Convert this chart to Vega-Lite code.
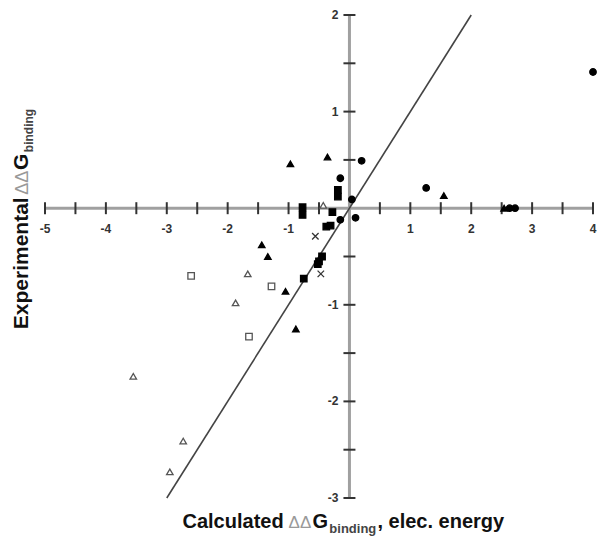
{
  "$schema": "https://vega.github.io/schema/vega-lite/v6.json",
  "width": 548,
  "height": 483,
  "autosize": {"type": "none"},
  "padding": {"left": 45, "top": 15, "right": 8, "bottom": 45},
  "background": "white",
  "config": {"view": {"stroke": null}, "font": "Liberation Sans"},
  "datasets": {
    "pts": [
      {"cx": 4.0, "ey": 1.41, "s": "circle"},
      {"cx": 0.2, "ey": 0.49, "s": "circle"},
      {"cx": -0.15, "ey": 0.31, "s": "circle"},
      {"cx": 1.26, "ey": 0.21, "s": "circle"},
      {"cx": 0.1, "ey": -0.1, "s": "circle"},
      {"cx": 2.63, "ey": 0.0, "s": "circle"},
      {"cx": 2.72, "ey": 0.0, "s": "circle"},
      {"cx": 0.04, "ey": 0.09, "s": "circle"},
      {"cx": -0.15, "ey": -0.12, "s": "circle"},
      {"cx": -0.97, "ey": 0.46, "s": "triF"},
      {"cx": -0.36, "ey": 0.53, "s": "triF"},
      {"cx": 1.55, "ey": 0.13, "s": "triF"},
      {"cx": -1.44, "ey": -0.38, "s": "triF"},
      {"cx": -1.34, "ey": -0.5, "s": "triF"},
      {"cx": -1.05, "ey": -0.86, "s": "triF"},
      {"cx": -0.88, "ey": -1.25, "s": "triF"},
      {"cx": 2.54, "ey": 0.0, "s": "triF"},
      {"cx": -0.77, "ey": 0.01, "s": "sqF"},
      {"cx": -0.77, "ey": -0.07, "s": "sqF"},
      {"cx": -0.28, "ey": -0.04, "s": "sqF"},
      {"cx": -0.19, "ey": 0.19, "s": "sqF"},
      {"cx": -0.19, "ey": 0.12, "s": "sqF"},
      {"cx": -0.38, "ey": -0.19, "s": "sqF"},
      {"cx": -0.31, "ey": -0.18, "s": "sqF"},
      {"cx": -0.45, "ey": -0.5, "s": "sqF"},
      {"cx": -0.5, "ey": -0.55, "s": "sqF"},
      {"cx": -0.52, "ey": -0.58, "s": "sqF"},
      {"cx": -0.75, "ey": -0.73, "s": "sqF"},
      {"cx": -0.56, "ey": -0.29, "s": "x"},
      {"cx": -0.47, "ey": -0.68, "s": "x"},
      {"cx": -1.67, "ey": -0.68, "s": "triO"},
      {"cx": -1.87, "ey": -0.98, "s": "triO"},
      {"cx": -3.55, "ey": -1.74, "s": "triO"},
      {"cx": -2.73, "ey": -2.41, "s": "triO"},
      {"cx": -2.95, "ey": -2.73, "s": "triO"},
      {"cx": -0.43, "ey": 0.03, "s": "triO"},
      {"cx": -2.6, "ey": -0.7, "s": "sqO"},
      {"cx": -1.28, "ey": -0.81, "s": "sqO"},
      {"cx": -1.65, "ey": -1.33, "s": "sqO"}
    ],
    "xticks": [
      {"v": -5, "t": "-5"}, {"v": -4.5, "t": ""}, {"v": -4, "t": "-4"}, {"v": -3.5, "t": ""},
      {"v": -3, "t": "-3"}, {"v": -2.5, "t": ""}, {"v": -2, "t": "-2"}, {"v": -1.5, "t": ""},
      {"v": -1, "t": "-1"}, {"v": -0.5, "t": ""}, {"v": 0.5, "t": ""}, {"v": 1, "t": "1"},
      {"v": 1.5, "t": ""}, {"v": 2, "t": "2"}, {"v": 2.5, "t": ""}, {"v": 3, "t": "3"},
      {"v": 3.5, "t": ""}, {"v": 4, "t": "4"}
    ],
    "yticks": [
      {"v": -3, "t": "-3"}, {"v": -2.5, "t": ""}, {"v": -2, "t": "-2"}, {"v": -1.5, "t": ""},
      {"v": -1, "t": "-1"}, {"v": -0.5, "t": ""}, {"v": 0.5, "t": ""}, {"v": 1, "t": "1"},
      {"v": 1.5, "t": ""}, {"v": 2, "t": "2"}
    ],
    "diag": [{"cx": -3, "ey": -3}, {"cx": 2, "ey": 2}],
    "xline": [{"a": -5, "b": 4}],
    "yline": [{"a": -3, "b": 2}]
  },
  "layer": [
    {
      "data": {"name": "xline"},
      "mark": {"type": "rule", "color": "#a0a0a0", "strokeWidth": 3},
      "encoding": {
        "x": {"field": "a", "type": "quantitative", "scale": {"domain": [-5, 4], "nice": false, "zero": false}, "axis": null},
        "x2": {"field": "b"},
        "y": {"datum": 0, "type": "quantitative", "scale": {"domain": [-3, 2], "nice": false, "zero": false}, "axis": null}
      }
    },
    {
      "data": {"name": "yline"},
      "mark": {"type": "rule", "color": "#a0a0a0", "strokeWidth": 3},
      "encoding": {
        "y": {"field": "a", "type": "quantitative"},
        "y2": {"field": "b"},
        "x": {"datum": 0, "type": "quantitative"}
      }
    },
    {
      "data": {"name": "xticks"},
      "mark": {"type": "tick", "orient": "vertical", "color": "#333", "size": 12, "thickness": 2, "opacity": 1},
      "encoding": {
        "x": {"field": "v", "type": "quantitative"},
        "y": {"datum": 0, "type": "quantitative"}
      }
    },
    {
      "data": {"name": "yticks"},
      "mark": {"type": "tick", "orient": "horizontal", "color": "#333", "size": 12, "thickness": 2, "opacity": 1},
      "encoding": {
        "y": {"field": "v", "type": "quantitative"},
        "x": {"datum": 0, "type": "quantitative"}
      }
    },
    {
      "data": {"name": "xticks"},
      "mark": {"type": "text", "fontSize": 12, "fontWeight": "bold", "color": "#333", "dy": 21, "baseline": "middle", "align": "center"},
      "encoding": {
        "x": {"field": "v", "type": "quantitative"},
        "y": {"datum": 0, "type": "quantitative"},
        "text": {"field": "t"}
      }
    },
    {
      "data": {"name": "yticks"},
      "mark": {"type": "text", "fontSize": 12, "fontWeight": "bold", "color": "#333", "dx": -11, "baseline": "middle", "align": "right"},
      "encoding": {
        "y": {"field": "v", "type": "quantitative"},
        "x": {"datum": 0, "type": "quantitative"},
        "text": {"field": "t"}
      }
    },
    {
      "data": {"name": "diag"},
      "mark": {"type": "line", "color": "#444", "strokeWidth": 1.6},
      "encoding": {
        "x": {"field": "cx", "type": "quantitative"},
        "y": {"field": "ey", "type": "quantitative"}
      }
    },
    {
      "data": {"name": "pts"},
      "mark": {"type": "point", "size": 42, "strokeWidth": 1.3, "opacity": 1},
      "encoding": {
        "x": {"field": "cx", "type": "quantitative"},
        "y": {"field": "ey", "type": "quantitative"},
        "shape": {"field": "s", "type": "nominal", "legend": null,
          "scale": {"domain": ["circle", "triF", "sqF", "x", "triO", "sqO"],
                    "range": ["circle", "triangle-up", "square", "M-1,-1L1,1M-1,1L1,-1", "triangle-up", "square"]}},
        "fill": {"field": "s", "type": "nominal", "legend": null,
          "scale": {"domain": ["circle", "triF", "sqF", "x", "triO", "sqO"],
                    "range": ["#000", "#000", "#000", "transparent", "#fff", "#fff"]}},
        "stroke": {"field": "s", "type": "nominal", "legend": null,
          "scale": {"domain": ["circle", "triF", "sqF", "x", "triO", "sqO"],
                    "range": ["#000", "#000", "#000", "#333", "#555", "#555"]}}
      }
    },
    {
      "data": {"values": [{}]},
      "mark": {"type": "text", "text": "Calculated", "fontSize": 20, "fontWeight": "bold", "color": "#111", "align": "left", "baseline": "alphabetic", "dy": 30},
      "encoding": {"x": {"datum": -2.742, "type": "quantitative"}, "y": {"datum": -3, "type": "quantitative"}}
    },
    {
      "data": {"values": [{}]},
      "mark": {"type": "text", "text": "ΔΔ", "fontSize": 17, "color": "#999", "align": "left", "baseline": "alphabetic", "dy": 30},
      "encoding": {"x": {"datum": -1.0, "type": "quantitative"}, "y": {"datum": -3, "type": "quantitative"}}
    },
    {
      "data": {"values": [{}]},
      "mark": {"type": "text", "text": "G", "fontSize": 20, "fontWeight": "bold", "color": "#111", "align": "left", "baseline": "alphabetic", "dy": 30},
      "encoding": {"x": {"datum": -0.608, "type": "quantitative"}, "y": {"datum": -3, "type": "quantitative"}}
    },
    {
      "data": {"values": [{}]},
      "mark": {"type": "text", "text": "binding", "fontSize": 13, "fontWeight": "bold", "color": "#444", "align": "left", "baseline": "alphabetic", "dy": 35},
      "encoding": {"x": {"datum": -0.33, "type": "quantitative"}, "y": {"datum": -3, "type": "quantitative"}}
    },
    {
      "data": {"values": [{}]},
      "mark": {"type": "text", "text": ", elec. energy", "fontSize": 20, "fontWeight": "bold", "color": "#111", "align": "left", "baseline": "alphabetic", "dy": 30},
      "encoding": {"x": {"datum": 0.46, "type": "quantitative"}, "y": {"datum": -3, "type": "quantitative"}}
    },
    {
      "data": {"values": [{}]},
      "mark": {"type": "text", "text": "Experimental", "fontSize": 21, "fontWeight": "bold", "color": "#111", "align": "left", "baseline": "alphabetic", "angle": 270},
      "encoding": {"x": {"datum": -5.28, "type": "quantitative"}, "y": {"datum": -1.253, "type": "quantitative"}}
    },
    {
      "data": {"values": [{}]},
      "mark": {"type": "text", "text": "ΔΔ", "fontSize": 18, "color": "#999", "align": "left", "baseline": "alphabetic", "angle": 270},
      "encoding": {"x": {"datum": -5.28, "type": "quantitative"}, "y": {"datum": 0.14, "type": "quantitative"}}
    },
    {
      "data": {"values": [{}]},
      "mark": {"type": "text", "text": "G", "fontSize": 21, "fontWeight": "bold", "color": "#111", "align": "left", "baseline": "alphabetic", "angle": 270},
      "encoding": {"x": {"datum": -5.28, "type": "quantitative"}, "y": {"datum": 0.395, "type": "quantitative"}}
    },
    {
      "data": {"values": [{}]},
      "mark": {"type": "text", "text": "binding", "fontSize": 12, "fontWeight": "bold", "color": "#444", "align": "left", "baseline": "alphabetic", "angle": 270},
      "encoding": {"x": {"datum": -5.2, "type": "quantitative"}, "y": {"datum": 0.58, "type": "quantitative"}}
    }
  ]
}
